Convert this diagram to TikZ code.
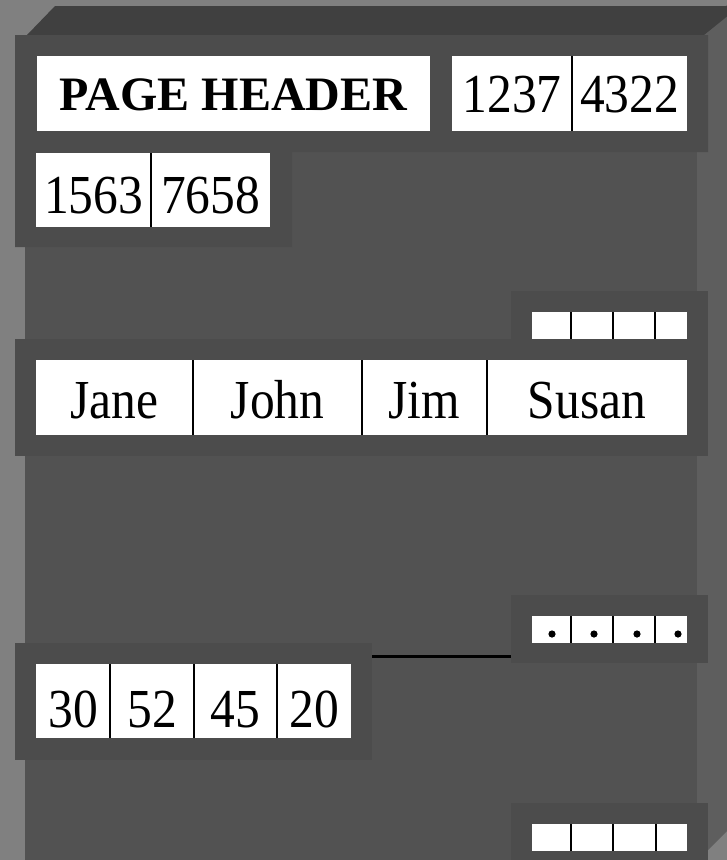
\documentclass[tikz,border=0pt]{standalone}
\usepackage{fontspec}
\setmainfont{Liberation Serif}
\definecolor{bgc}{HTML}{808080}
\definecolor{topc}{HTML}{404040}
\definecolor{frontc}{HTML}{525252}
\definecolor{sidec}{HTML}{5E5E5E}
\definecolor{panelc}{HTML}{4C4C4C}
\newcommand{\cx}[1]{\scalebox{0.9}[1]{#1}}
\begin{document}
\begin{tikzpicture}[x=1pt,y=-1pt,
  panel/.style={fill=panelc},
  cell/.style={fill=white, inner sep=0pt, outer sep=0pt, anchor=north west,
    font=\fontsize{55}{62}\selectfont, text depth=0pt},
  divider/.style={draw=black, line width=2pt},
  dotc/.style={fill=black}]
\useasboundingbox (0,0) rectangle (727,860);
\fill[bgc] (0,0) rectangle (727,860);
% box faces
\fill[sidec] (697,35) -- (727,5) -- (727,831) -- (697,861) -- cycle;
\fill[frontc] (25,35) rectangle (697,861);
\fill[topc] (27,35) -- (55,6) -- (740,6) -- (704,35) -- cycle;
% panels
\fill[panel] (15,35) -- (708,35) -- (708,152) -- (292,152) -- (292,247) -- (15,247) -- cycle;
\fill[panel] (511,291) rectangle (708,340);
\fill[panel] (15,339) rectangle (708,456);
\fill[panel] (511,595) rectangle (708,663);
\fill[panel] (15,643) rectangle (372,760);
\fill[panel] (511,803) rectangle (708,861);
% header row
\node[cell, minimum width=393, minimum height=75, text height=34,
  font=\fontsize{48}{55}\selectfont\bfseries] (ph) at (37,56) {PAGE HEADER};
\node[cell, minimum width=120, minimum height=75, text height=37] (h1) at (452,56) {\cx{1237}};
\node[cell, minimum width=115, minimum height=75, text height=37] (h2) at (572,56) {\cx{4322}};
\draw[divider] (h1.north east) -- (h1.south east);
% second row
\node[cell, minimum width=115, minimum height=74, text height=46] (r1) at (36,153) {\cx{1563}};
\node[cell, minimum width=119, minimum height=74, text height=46] (r2) at (151,153) {\cx{7658}};
\draw[divider] (r1.north east) -- (r1.south east);
% small boxes top
\node[cell, minimum width=39, minimum height=27] (s1) at (532,312) {};
\node[cell, minimum width=42, minimum height=27] (s2) at (571,312) {};
\node[cell, minimum width=42, minimum height=27] (s3) at (613,312) {};
\node[cell, minimum width=32, minimum height=27] (s4) at (655,312) {};
\draw[divider] (s1.north east) -- (s1.south east);
\draw[divider] (s2.north east) -- (s2.south east);
\draw[divider] (s3.north east) -- (s3.south east);
% names
\node[cell, minimum width=157, minimum height=75, text height=41] (n1) at (36,360) {\cx{Jane}};
\node[cell, minimum width=169, minimum height=75, text height=41] (n2) at (193,360) {\cx{John}};
\node[cell, minimum width=125, minimum height=75, text height=41] (n3) at (362,360) {\cx{Jim}};
\node[cell, minimum width=200, minimum height=75, text height=41] (n4) at (487,360) {\cx{Susan}};
\draw[divider] (n1.north east) -- (n1.south east);
\draw[divider] (n2.north east) -- (n2.south east);
\draw[divider] (n3.north east) -- (n3.south east);
% dotted boxes
\node[cell, minimum width=39, minimum height=27] (d1) at (532,616) {};
\node[cell, minimum width=42, minimum height=27] (d2) at (571,616) {};
\node[cell, minimum width=42, minimum height=27] (d3) at (613,616) {};
\node[cell, minimum width=32, minimum height=27] (d4) at (655,616) {};
\draw[divider] (d1.north east) -- (d1.south east);
\draw[divider] (d2.north east) -- (d2.south east);
\draw[divider] (d3.north east) -- (d3.south east);
\fill[dotc] (d1.south west) ++(20,-9) circle (3.6);
\fill[dotc] (d2.south west) ++(23,-9) circle (3.6);
\fill[dotc] (d3.south west) ++(24,-9) circle (3.6);
\fill[dotc] (d4.south west) ++(23,-9) circle (3.6);
% connector line
\coordinate (la) at (372,656);
\coordinate (lb) at (511,656);
\draw[line width=3pt, black] (la) -- (lb);
% numbers
\node[cell, minimum width=74, minimum height=74, text height=52] (m1) at (36,664) {\cx{30}};
\node[cell, minimum width=84, minimum height=74, text height=52] (m2) at (110,664) {\cx{52}};
\node[cell, minimum width=83, minimum height=74, text height=52] (m3) at (194,664) {\cx{45}};
\node[cell, minimum width=74, minimum height=74, text height=52] (m4) at (277,664) {\cx{20}};
\draw[divider] (m1.north east) -- (m1.south east);
\draw[divider] (m2.north east) -- (m2.south east);
\draw[divider] (m3.north east) -- (m3.south east);
% small boxes bottom
\node[cell, minimum width=39, minimum height=27] (b1) at (532,824) {};
\node[cell, minimum width=42, minimum height=27] (b2) at (571,824) {};
\node[cell, minimum width=43, minimum height=27] (b3) at (613,824) {};
\node[cell, minimum width=31, minimum height=27] (b4) at (656,824) {};
\draw[divider] (b1.north east) -- (b1.south east);
\draw[divider] (b2.north east) -- (b2.south east);
\draw[divider] (b3.north east) -- (b3.south east);
\end{tikzpicture}
\end{document}
